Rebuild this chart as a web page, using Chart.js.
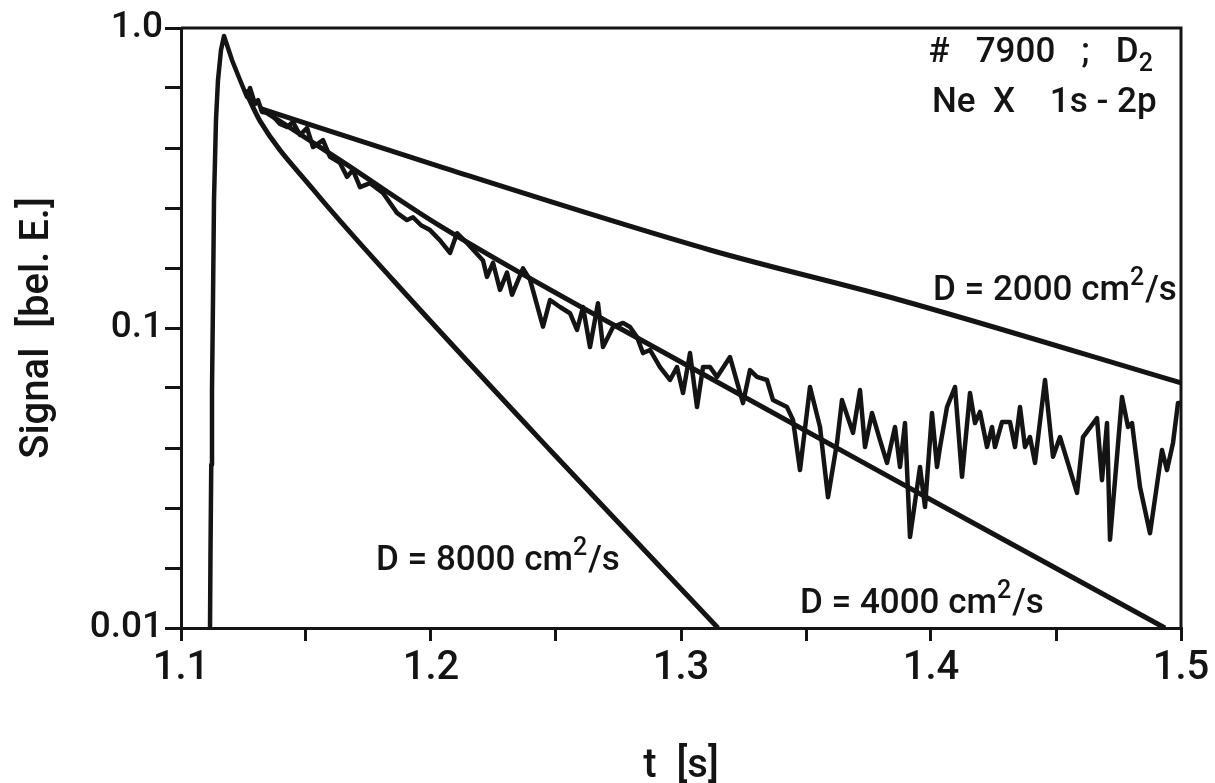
<!DOCTYPE html>
<html>
<head>
<title>Ne X 1s-2p signal decay</title>
<script src="https://cdn.jsdelivr.net/npm/chart.js"></script>
<style>
  body { margin: 0; background: #fff; }
  #wrap { width: 1215px; height: 783px; }
</style>
</head>
<body>
<div id="wrap"><canvas id="chart" width="1215" height="783"></canvas></div>
<script>
// measured signal, [t (s), signal (rel. units)]
const signal = [
  [1.1116,0.01],[1.1118,0.018],[1.1121,0.035],[1.1124,0.062],[1.1128,0.124],[1.1132,0.267],[1.1140,0.494],
  [1.1148,0.671],[1.1160,0.845],[1.1172,0.94],[1.1204,0.782],[1.1236,0.671],[1.1264,0.589],[1.1276,0.631],
  [1.1296,0.558],[1.1308,0.575],[1.1324,0.525],[1.1356,0.521],[1.1396,0.479],[1.1424,0.468],
  [1.1448,0.486],[1.1476,0.440],[1.1504,0.464],[1.1528,0.401],[1.1568,0.423],[1.1596,0.372],
  [1.1636,0.355],[1.1664,0.319],[1.1688,0.336],[1.1716,0.295],[1.1756,0.304],[1.1808,0.282],
  [1.1864,0.242],[1.1904,0.229],[1.1928,0.234],[1.1960,0.220],[1.1996,0.212],[1.2036,0.196],
  [1.2076,0.178],[1.2104,0.207],[1.2144,0.192],[1.2208,0.168],[1.2224,0.148],[1.2248,0.165],
  [1.2276,0.134],[1.2304,0.153],[1.2324,0.129],[1.2368,0.158],[1.2396,0.145],[1.2448,0.101],
  [1.2476,0.124],[1.2516,0.1175],[1.2556,0.112],[1.2584,0.0985],[1.2608,0.1175],[1.2636,0.0864],
  [1.2668,0.121],[1.2688,0.0864],[1.2728,0.1008],[1.2768,0.104],[1.2796,0.1008],[1.2824,0.0933],
  [1.2848,0.0825],[1.2876,0.0845],[1.2916,0.0741],[1.2956,0.0671],[1.2984,0.0741],[1.3008,0.0607],
  [1.3036,0.0825],[1.3064,0.0545],[1.3088,0.0741],[1.3116,0.0741],[1.3144,0.0687],[1.3196,0.080],
  [1.3248,0.0562],[1.3276,0.0724],[1.3304,0.0687],[1.3344,0.0671],[1.3368,0.0575],[1.3424,0.0545],
  [1.3448,0.0494],[1.3476,0.0336],[1.3516,0.0636],[1.3556,0.0468],[1.3588,0.0273],[1.3624,0.0414],
  [1.3644,0.0575],[1.3688,0.0447],[1.3716,0.0621],[1.3736,0.0401],[1.3764,0.0521],[1.3796,0.0423],
  [1.3824,0.0355],[1.3856,0.0468],[1.3876,0.0344],[1.3896,0.0482],[1.3916,0.0201],[1.3956,0.0344],
  [1.3976,0.0253],[1.4004,0.0521],[1.4024,0.0344],[1.4036,0.0401],[1.4064,0.0545],[1.4096,0.0636],
  [1.4124,0.0319],[1.4156,0.0607],[1.4176,0.0482],[1.4196,0.0525],[1.4224,0.0401],[1.4244,0.0468],
  [1.4256,0.0401],[1.4284,0.0486],[1.4316,0.0486],[1.4336,0.0401],[1.4356,0.0545],[1.4376,0.0401],
  [1.4396,0.0433],[1.4416,0.0355],[1.4456,0.0671],[1.4488,0.0372],[1.4516,0.0433],[1.4584,0.0282],
  [1.4608,0.0433],[1.4664,0.0501],[1.4684,0.0311],[1.4704,0.0482],[1.4716,0.0197],[1.4764,0.0589],
  [1.4788,0.0468],[1.4804,0.0482],[1.4836,0.0295],[1.4876,0.0207],[1.4924,0.0392],[1.4944,0.0336],
  [1.4968,0.0414],[1.4988,0.0562],[1.5000,0.0562]
];

// model curves for the three diffusion coefficients
const fit2000 = [[1.1316,0.54],[1.2036,0.345],[1.3116,0.182],[1.3876,0.124],[1.5,0.0656]];
const fit4000 = [[1.1316,0.54],[1.1636,0.363],[1.2036,0.219],[1.3036,0.0741],[1.4076,0.0247],[1.4936,0.01]];
const fit8000 = [[1.1256,0.621],[1.1316,0.49],[1.1528,0.29],[1.1848,0.1445],[1.2476,0.0392],[1.3148,0.01]];

const xTicks = [1.1, 1.15, 1.2, 1.25, 1.3, 1.35, 1.4, 1.45, 1.5];
const xTickLabels = ['1.1', '', '1.2', '', '1.3', '', '1.4', '', '1.5'];
const yTicks = [1, 0.631, 0.398, 0.251, 0.158, 0.1, 0.0631, 0.0398, 0.0251, 0.0158, 0.01];
const yTickLabels = ['1.0', '', '', '', '', '0.1', '', '', '', '', '0.01'];

// text in the plot: anchor (t, signal) of the baseline start, then pieces
const notes = [
  { t: 1.3990, v: 0.77,   parts: [['#   7900   ;   D'], ['2', 'sub']] },
  { t: 1.4004, v: 0.525,  parts: [['Ne  X    1s - 2p']] },
  { t: 1.4008, v: 0.124,  parts: [['D = 2000 cm'], ['2', 'sup'], ['/s']] },
  { t: 1.1780, v: 0.0156, parts: [['D = 8000 cm'], ['2', 'sup'], ['/s']] },
  { t: 1.3476, v: 0.0112, parts: [['D = 4000 cm'], ['2', 'sup'], ['/s']] }
];

const ink = '#141414';
const fontFamily = 'Roboto';
const toXY = arr => arr.map(p => ({ x: p[0], y: p[1] }));

const lineSet = (data, w, smooth) => ({
  data: toXY(data),
  borderColor: ink,
  borderWidth: w,
  pointRadius: 0,
  cubicInterpolationMode: smooth ? 'monotone' : 'default',
  tension: 0,
  borderJoinStyle: 'round',
  fill: false
});

const framePlugin = {
  id: 'frame',
  afterDraw(chart) {
    const { ctx, chartArea: a } = chart;
    ctx.save();
    ctx.strokeStyle = ink;
    ctx.lineWidth = 3;
    ctx.beginPath();
    ctx.moveTo(a.left, a.top);
    ctx.lineTo(a.right, a.top);
    ctx.lineTo(a.right, a.bottom);
    ctx.stroke();
    ctx.restore();
  }
};

const notesPlugin = {
  id: 'notes',
  afterDatasetsDraw(chart) {
    const { ctx, scales: { x, y } } = chart;
    ctx.save();
    ctx.fillStyle = ink;
    ctx.textBaseline = 'alphabetic';
    notes.forEach(n => {
      let px = x.getPixelForValue(n.t);
      const py = y.getPixelForValue(n.v);
      n.parts.forEach(([txt, kind]) => {
        const size = kind ? 25 : 35;
        const dy = kind === 'sub' ? 9 : kind === 'sup' ? -15 : 0;
        ctx.font = '500 ' + size + 'px ' + fontFamily;
        ctx.fillText(txt, px, py + dy);
        px += ctx.measureText(txt).width + (kind ? 1 : 0);
      });
    });
    ctx.restore();
  }
};

new Chart(document.getElementById('chart'), {
  type: 'line',
  data: {
    datasets: [
      lineSet(fit2000, 5, true),
      lineSet(fit4000, 5, true),
      lineSet(fit8000, 5, true),
      lineSet(signal, 4.5, false)
    ]
  },
  options: {
    responsive: false,
    animation: false,
    layout: { padding: { left: 8, top: 28, right: 34, bottom: 0 } },
    plugins: { legend: { display: false }, tooltip: { enabled: false } },
    scales: {
      x: {
        type: 'linear',
        min: 1.1,
        max: 1.5,
        afterBuildTicks: s => { s.ticks = xTicks.map(v => ({ value: v })); },
        afterFit: s => { s.height = 155; },
        ticks: {
          callback: (v, i) => xTickLabels[i],
          font: { family: fontFamily, size: 40, weight: '500' },
          color: ink,
          padding: 4,
          maxRotation: 0,
          autoSkip: false
        },
        grid: { display: true, drawOnChartArea: false, tickLength: 13, color: ink, lineWidth: 3 },
        border: { display: true, color: ink, width: 3 },
        title: {
          display: true,
          text: 't  [s]',
          font: { family: fontFamily, size: 40, weight: '500', lineHeight: 0.8 },
          color: ink,
          padding: { top: 0, bottom: 0 }
        }
      },
      y: {
        type: 'logarithmic',
        min: 0.01,
        max: 1,
        afterBuildTicks: s => { s.ticks = yTicks.map(v => ({ value: v })); },
        afterFit: s => { s.width = 173; },
        ticks: {
          callback: (v, i) => yTickLabels[i],
          font: { family: fontFamily, size: 37, weight: '500' },
          color: ink,
          padding: 2,
          autoSkip: false
        },
        grid: { display: true, drawOnChartArea: false, tickLength: 16, color: ink, lineWidth: 3 },
        border: { display: true, color: ink, width: 3 },
        title: {
          display: true,
          text: 'Signal  [bel. E.]',
          font: { family: fontFamily, size: 40, weight: '500', lineHeight: 1 },
          color: ink,
          padding: { top: 10, bottom: 0 }
        }
      }
    }
  },
  plugins: [framePlugin, notesPlugin]
});
</script>
</body>
</html>
